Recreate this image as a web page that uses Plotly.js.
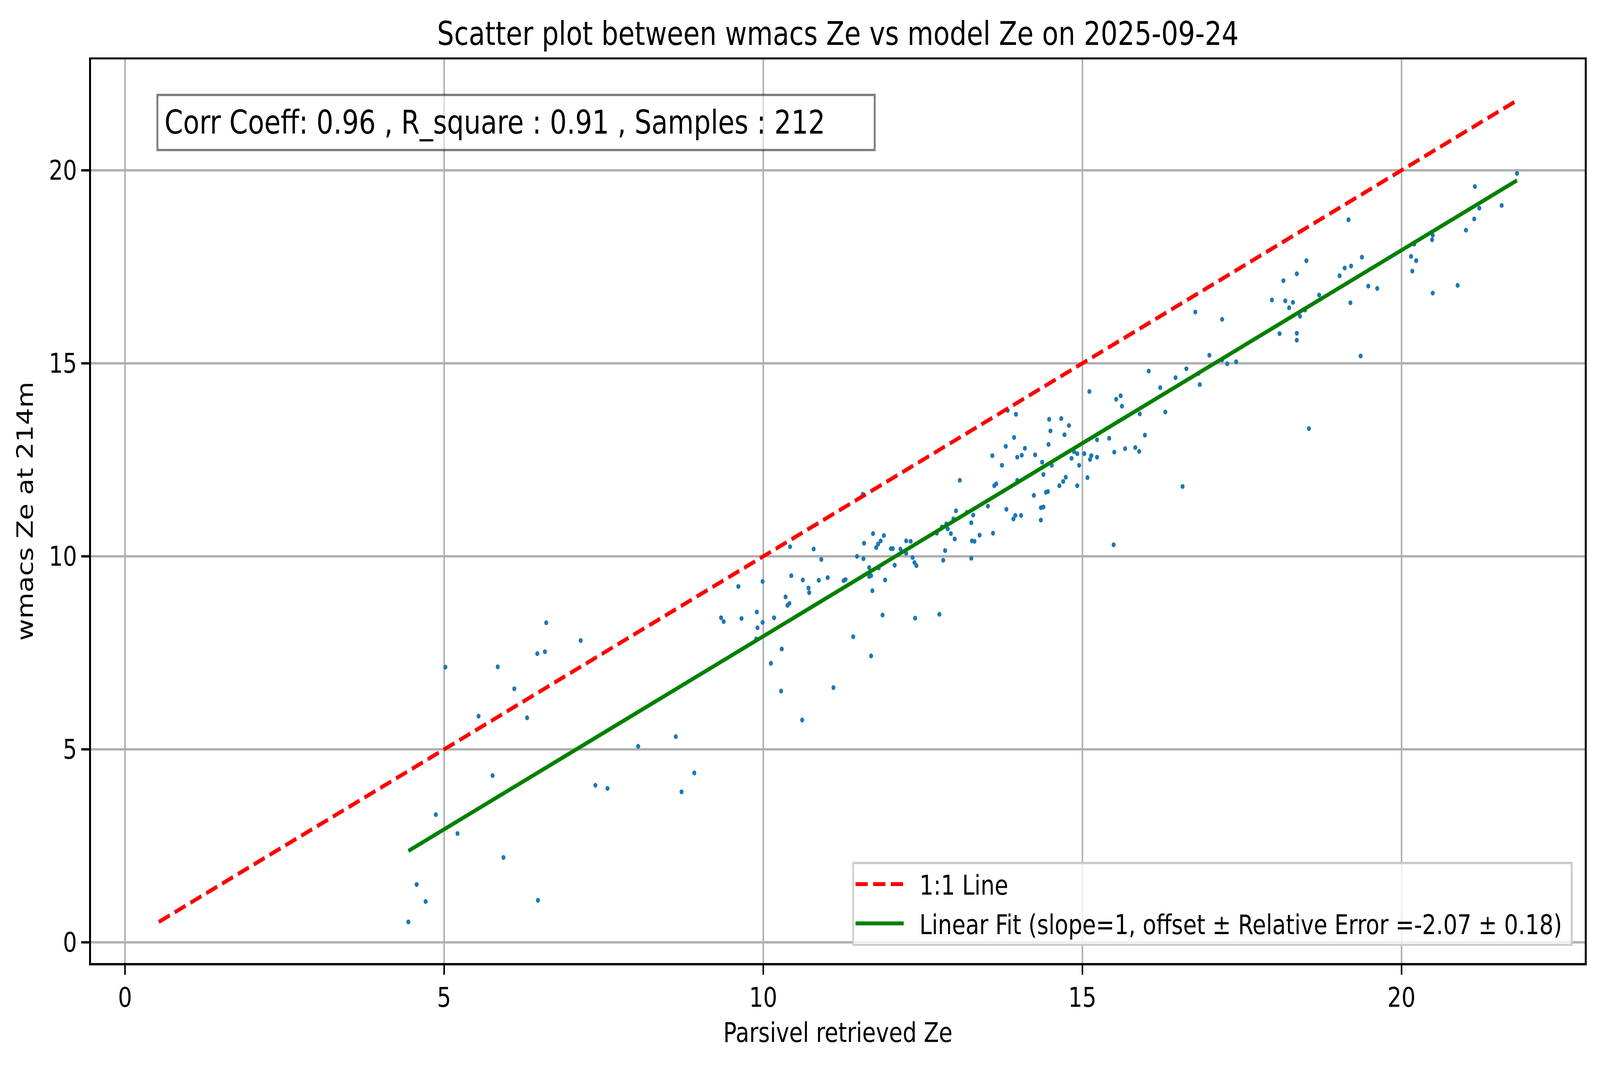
<!DOCTYPE html>
<html>
<head>
<meta charset="utf-8">
<script src="https://cdn.plot.ly/plotly-3.0.1.min.js"></script>
<style>
  html, body { margin: 0; padding: 0; background: #fff; overflow: hidden; }
  #ScatterPlot { width: 4981px; height: 2726px; transform-origin: 0 0; }
</style>
</head>
<body>
<div id="ScatterPlot"></div>
<script>
// Parsivel retrieved Ze (x) and wmacs Ze at 214m (y)
let parsivelZe = [
    4.44, 4.57, 4.71, 4.87, 5.02, 5.21, 5.54, 5.76, 5.84, 5.93, 6.10, 6.30, 6.46, 6.47, 6.58, 6.60,
    7.14, 7.37, 7.56, 8.04, 8.63, 8.72, 8.92,
    9.34, 9.38, 9.61, 9.66, 9.89, 9.90, 9.91, 9.99, 9.99, 10.12, 10.17, 10.28, 10.29, 10.35, 10.38, 10.41,
    10.42, 10.44, 10.61, 10.62, 10.71, 10.72, 10.79, 10.87, 10.91, 11.01, 11.10, 11.26, 11.29, 11.41, 11.47,
    11.56, 11.57, 11.58, 11.66, 11.66, 11.69, 11.69, 11.71, 11.72, 11.77, 11.80, 11.81, 11.84, 11.87, 11.89,
    11.91, 12.00, 12.03, 12.06, 12.15, 12.24, 12.24, 12.31, 12.34, 12.37, 12.38, 12.40, 12.72, 12.76, 12.80,
    12.82, 12.85, 12.87, 12.89, 12.94, 12.98, 13.00, 13.02, 13.08,
    13.19, 13.26, 13.26, 13.27, 13.29, 13.31, 13.39, 13.52, 13.59, 13.60, 13.62, 13.65, 13.74, 13.80, 13.81,
    13.83, 13.92, 13.93, 13.95, 13.96, 13.98, 13.98, 14.04, 14.05, 14.10, 14.24, 14.26, 14.35, 14.35, 14.37,
    14.39, 14.39, 14.43, 14.46, 14.47, 14.48, 14.50, 14.52, 14.64, 14.67, 14.70, 14.72, 14.74, 14.79, 14.83,
    14.87, 14.92, 14.92, 14.95, 15.03, 15.08, 15.11, 15.12, 15.14, 15.23, 15.23, 15.42, 15.49, 15.50, 15.53,
    15.60, 15.62, 15.67, 15.83, 15.89, 15.90, 15.98, 16.04,
    16.22, 16.30, 16.46, 16.57, 16.63, 16.77, 16.82, 16.84, 16.99, 17.19, 17.19, 17.27, 17.41, 17.97, 18.09,
    18.15, 18.18, 18.24, 18.30, 18.36, 18.36, 18.36, 18.41, 18.49, 18.51, 18.55, 18.71, 19.03, 19.11, 19.17,
    19.20, 19.21, 19.36, 19.38, 19.48, 19.62, 20.15, 20.17, 20.20, 20.23, 20.48, 20.49, 20.49, 20.88, 21.01,
    21.14, 21.15, 21.22, 21.57, 21.81
];
let wmacsZe = [
    0.53, 1.50, 1.06, 3.31, 7.13, 2.82, 5.86, 4.32, 7.14, 2.20, 6.57, 5.82, 7.48, 1.09, 7.53, 8.28,
    7.82, 4.07, 3.99, 5.08, 5.33, 3.90, 4.39,
    8.41, 8.31, 9.22, 8.39, 7.86, 8.56, 8.15, 9.35, 8.29, 7.23, 8.41, 6.51, 7.60, 8.95, 8.73, 8.78,
    10.25, 9.50, 5.76, 9.39, 9.18, 9.06, 10.19, 9.38, 9.92, 9.45, 6.60, 9.37, 9.40, 7.92, 10.00,
    11.61, 9.94, 10.34, 9.71, 9.48, 9.50, 7.42, 9.11, 10.59, 10.23, 10.32, 9.70, 10.40, 8.48, 10.54,
    9.39, 10.20, 10.20, 9.77, 10.19, 10.40, 10.08, 10.39, 9.97, 9.84, 8.40, 9.76, 10.60, 8.50, 10.76,
    9.90, 10.15, 10.84, 10.71, 10.59, 10.97, 10.45, 11.18, 11.97,
    11.14, 10.87, 9.95, 10.40, 11.07, 10.39, 10.55, 11.30, 12.61, 10.60, 11.83, 11.88, 12.36, 12.85, 11.22,
    13.78, 10.97, 13.08, 11.06, 13.68, 12.57, 11.97, 11.06, 12.62, 12.80, 11.58, 12.63, 11.26, 10.94, 12.44,
    12.12, 11.28, 11.66, 11.68, 12.90, 13.55, 13.25, 12.36, 11.83, 13.57, 11.94, 13.15, 12.05, 13.39, 12.54,
    12.71, 12.66, 11.83, 12.36, 12.66, 12.04, 14.27, 12.51, 12.61, 12.57, 13.02, 13.06, 10.30, 12.70, 14.07,
    14.16, 13.89, 12.79, 12.82, 12.72, 13.69, 13.14, 14.80,
    14.37, 13.74, 14.63, 11.81, 14.86, 16.33, 14.74, 14.45, 15.21, 16.14, 15.09, 14.99, 15.04, 16.64, 15.77,
    17.14, 16.62, 16.44, 16.58, 17.32, 15.78, 15.60, 16.22, 16.38, 17.66, 13.31, 16.77, 17.27, 17.47, 18.72,
    16.57, 17.52, 15.19, 17.75, 17.00, 16.94, 17.77, 17.39, 18.09, 17.66, 18.20, 18.32, 16.82, 17.02, 18.45,
    18.74, 19.58, 19.02, 19.09, 19.92
];

// statistics printed on the figure
let corrCoeff = 0.96;
let rSquare = 0.91;
let nSamples = 212;
let fitSlope = 1;
let fitOffset = -2.07;
let fitError = 0.18;

let tickVals = [0, 5, 10, 15, 20];
let axisRange = [-0.534, 22.874];

const FONT = 'DejaVu Sans, sans-serif';
const FIG_W = 4981;
const FIG_H = 2726;
const NBSP = '\u00a0';

// the browser may be narrower than the figure: squeeze it to fit the window
let plotDiv = document.getElementById('ScatterPlot');
let sx = Math.min(1, window.innerWidth / FIG_W);
let sy = Math.min(1, window.innerHeight / FIG_H);
plotDiv.style.transform = 'scale(' + sx + ',' + sy + ')';

// 1:1 line spans the joint min/max of both variables
let allVals = parsivelZe.concat(wmacsZe);
let lo = Math.min(...allVals);
let hi = Math.max(...allVals);

// fit line across the x range of the data
let fitFrom = Math.min(...parsivelZe);
let fitTo = Math.max(...parsivelZe);

let scatter = {
    x: parsivelZe,
    y: wmacsZe,
    mode: 'markers',
    type: 'scatter',
    showlegend: false,
    marker: { color: '#1f77b4', size: 12.5 }
};

// leading/trailing nbsp only pad the legend box like matplotlib's
let oneToOne = {
    x: [lo, hi],
    y: [lo, hi],
    mode: 'lines',
    type: 'scatter',
    name: NBSP + NBSP + '1:1 Line',
    legendgroup: 'one',
    line: { color: '#ff0000', width: 10.4, dash: '38px,17px' }
};

let fitLine = {
    x: [fitFrom, fitTo],
    y: [fitFrom * fitSlope + fitOffset, fitTo * fitSlope + fitOffset],
    mode: 'lines',
    type: 'scatter',
    name: NBSP + NBSP + 'Linear Fit (slope=' + fitSlope + ', offset \u00b1 Relative Error =' +
          fitOffset.toFixed(2) + ' \u00b1 ' + fitError.toFixed(2) + ')' + NBSP,
    legendgroup: 'fit',
    line: { color: '#008000', width: 10.4 }
};

let axisStyle = {
    range: axisRange,
    tickmode: 'array',
    tickvals: tickVals,
    showgrid: true,
    gridcolor: '#b0b0b0',
    gridwidth: 5.5,
    zeroline: false,
    showline: true,
    mirror: true,
    linecolor: '#000000',
    linewidth: 5.5,
    ticks: 'outside',
    ticklen: 24,
    tickwidth: 5.5,
    tickcolor: '#000000',
    tickfont: { family: FONT, size: 69, color: '#000000' },
    automargin: false
};

let layout = {
    width: FIG_W,
    height: FIG_H,
    margin: { l: 283, r: 47, t: 152, b: 261, pad: 0 },
    paper_bgcolor: '#ffffff',
    plot_bgcolor: '#ffffff',
    font: { family: FONT, color: '#000000' },
    title: {
        text: 'Scatter plot between wmacs Ze vs model Ze on 2025-09-24',
        font: { family: FONT, size: 83, color: '#000000' },
        xref: 'paper', x: 0.5, xanchor: 'center',
        yref: 'container', y: 1 - 86 / FIG_H, yanchor: 'middle'
    },
    xaxis: Object.assign({}, axisStyle, {
        title: { text: 'Parsivel retrieved Ze', font: { family: FONT, size: 69, color: '#000000' }, standoff: 28 }
    }),
    yaxis: Object.assign({}, axisStyle, {
        title: { text: 'wmacs Ze at 214m', font: { family: FONT, size: 69, color: '#000000' }, standoff: 28 }
    }),
    legend: {
        x: 0.9918, y: 0.019, xanchor: 'right', yanchor: 'bottom',
        traceorder: 'grouped',
        tracegroupgap: 8,
        bgcolor: 'rgba(255,255,255,0.8)',
        bordercolor: '#cccccc',
        borderwidth: 5.5,
        itemwidth: 150,
        font: { family: FONT, size: 69, color: '#000000' }
    },
    annotations: [{
        text: 'Corr Coeff: ' + corrCoeff.toFixed(2) + ' , R_square : ' + rSquare.toFixed(2) + ' , Samples : ' + nSamples + NBSP.repeat(5),
        xref: 'paper', yref: 'paper',
        x: 0.0439, y: 0.962, xanchor: 'left', yanchor: 'top',
        showarrow: false,
        align: 'left',
        font: { family: FONT, size: 83, color: '#000000' },
        bgcolor: 'rgba(255,255,255,0.5)',
        bordercolor: 'rgba(0,0,0,0.5)',
        borderwidth: 6,
        borderpad: 19
    }]
};

Plotly.newPlot('ScatterPlot', [scatter, oneToOne, fitLine], layout, { displayModeBar: false, staticPlot: true });
</script>
</body>
</html>
